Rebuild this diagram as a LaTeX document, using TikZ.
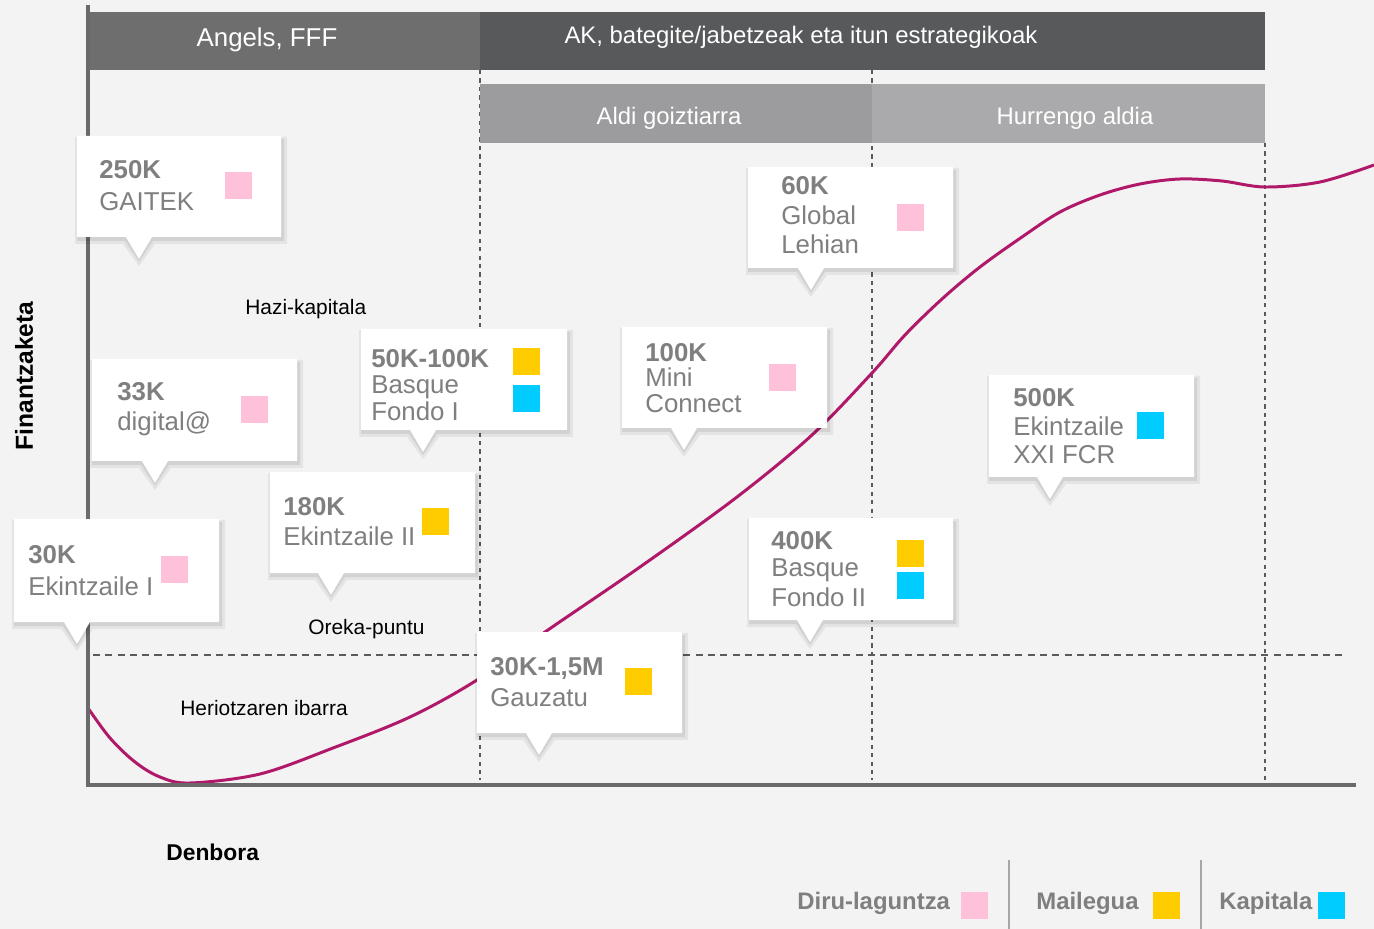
\documentclass[tikz,border=0pt]{standalone}
\usepackage{fontspec}
\setmainfont{Liberation Sans}
\definecolor{bg}{HTML}{F4F3F3}
\definecolor{hdrL}{HTML}{6E6E6E}
\definecolor{hdrR}{HTML}{58595B}
\definecolor{subL}{HTML}{9C9C9E}
\definecolor{subR}{HTML}{AAAAAC}
\definecolor{txtgray}{HTML}{7F7F7F}
\definecolor{axisgray}{HTML}{6A6A6A}
\definecolor{dashgray}{HTML}{5A5A5A}
\definecolor{cpink}{HTML}{FFC0DA}
\definecolor{cyellow}{HTML}{FFCC00}
\definecolor{ccyan}{HTML}{00CCFF}
\definecolor{curvec}{HTML}{B0186A}
\newcommand\pxfont[1]{\fontsize{#1}{#1}\selectfont}
\newcommand\callout[5]{%
  \fill[black,opacity=.06] (#1-2,#2+1) -- (#3+6,#2+1) -- (#3+6,#4+7) -- (#5+16,#4+7) -- (#5,#4+29) -- (#5-16,#4+7) -- (#1-2,#4+7) -- cycle;
  \fill[black,opacity=.08] (#1,#2+3) -- (#3+3,#2+3) -- (#3+3,#4+4) -- (#5+14,#4+4) -- (#5,#4+25) -- (#5-14,#4+4) -- (#1,#4+4) -- cycle;
  \fill[white] (#1,#2) -- (#3,#2) -- (#3,#4) -- (#5+13,#4) -- (#5,#4+22) -- (#5-13,#4) -- (#1,#4) -- cycle;
}
\newcommand\sq[3]{\fill[#1] (#2,#3) rectangle +(27,27);}
\tikzset{
  cb/.style={anchor=base west, inner sep=0pt, text=txtgray, font=\pxfont{14.7}\bfseries},
  cr/.style={anchor=base west, inner sep=0pt, text=txtgray, font=\pxfont{14.7}},
  lbl/.style={anchor=base west, inner sep=0pt, text=black, font=\pxfont{11.9}},
  hdr/.style={anchor=base, inner sep=0pt, text=white, font=\pxfont{13.6}},
  leg/.style={anchor=base west, inner sep=0pt, text=txtgray, font=\pxfont{13.6}\bfseries},
  vdash/.style={dashgray, line width=0.8pt, dash pattern=on 2.4pt off 2.4pt},
  hdash/.style={dashgray, line width=0.8pt, dash pattern=on 4pt off 3pt},
}
\begin{document}
\begin{tikzpicture}[x=0.02cm,y=-0.02cm]
\useasboundingbox (0,0) rectangle (1374,929);
\fill[bg] (0,0) rectangle (1374,929);
% dashed grid
\draw[vdash] (480,70) -- (480,780);
\draw[vdash] (872,70) -- (872,780);
\draw[vdash] (1265,143) -- (1265,780);
\draw[hdash] (93,655) -- (1345,655);
% header bars
\fill[hdrL] (88,12) rectangle (480,70);
\fill[hdrR] (480,12) rectangle (1265,70);
\fill[subL] (480,84) rectangle (872,143);
\fill[subR] (872,84) rectangle (1265,143);
\node[hdr, font=\pxfont{14.7}] (h1) at (267,47) {Angels, FFF};
\node[hdr] (h2) at (801,44) {AK, bategite/jabetzeak eta itun estrategikoak};
\node[hdr] (h3) at (669,125) {Aldi goiztiarra};
\node[hdr] (h4) at (1075,125) {Hurrengo aldia};
% curve
\draw[curvec, line width=1.7pt] plot[smooth, tension=0.55] coordinates {
 (88,708) (110,738) (135,762) (160,777) (190,783) (260,774) (333,748) (410,717)
 (477,680) (545,632) (640,567) (737,497) (812,435) (872,373) (905,335) (942,299)
 (980,267) (1022,237) (1060,212) (1100,195) (1140,184) (1180,179) (1222,181)
 (1265,187) (1320,182) (1374,165)};
% axes
\draw[axisgray, line width=2.8pt] (88,5) -- (88,787);
\draw[axisgray, line width=2.8pt] (86,785) -- (1356,785);
% labels
\node[lbl] (hazi) at (245,315) {Hazi-kapitala};
\node[lbl] (oreka) at (308,634) {Oreka-puntu};
\node[lbl] (herio) at (180,715) {Heriotzaren ibarra};
\node[anchor=base west, inner sep=0pt, font=\pxfont{13}\bfseries] (denb) at (166,860) {Denbora};
\node[rotate=90, inner sep=0pt, font=\pxfont{14}\bfseries] (fin) at (24,376) {Finantzaketa};
% callouts
\callout{77}{136}{281}{237}{139}
\node[cb] (c1a) at (99,179) {250K};
\node[cr] (c1b) at (99,211) {GAITEK};
\sq{cpink}{225}{172}
\callout{92}{359}{297}{461}{155}
\node[cb] (c2a) at (117,401) {33K};
\node[cr] (c2b) at (117,431) {digital@};
\sq{cpink}{241}{396}
\callout{14}{519}{219}{622}{77}
\node[cb] (c3a) at (28,563) {30K};
\node[cr] (c3b) at (28,595) {Ekintzaile I};
\sq{cpink}{161}{556}
\callout{270}{472}{475}{573}{331}
\node[cb] (c4a) at (283,516) {180K};
\node[cr] (c4b) at (283,545) {Ekintzaile II};
\sq{cyellow}{422}{508}
\callout{361}{329}{567}{430}{423}
\node[cb] (c5a) at (371,368) {50K-100K};
\node[cr] (c5b) at (371,394) {Basque};
\node[cr] (c5c) at (371,420) {Fondo I};
\sq{cyellow}{513}{348}
\sq{ccyan}{513}{385}
\callout{622}{327}{827}{428}{684}
\node[cb] (c6a) at (645,362) {100K};
\node[cr] (c6b) at (645,387) {Mini};
\node[cr] (c6c) at (645,413) {Connect};
\sq{cpink}{769}{364}
\callout{748}{167}{953}{268}{811}
\node[cb] (c7a) at (781,195) {60K};
\node[cr] (c7b) at (781,225) {Global};
\node[cr] (c7c) at (781,254) {Lehian};
\sq{cpink}{897}{204}
\callout{989}{375}{1194}{477}{1050}
\node[cb] (c8a) at (1013,407) {500K};
\node[cr] (c8b) at (1013,436) {Ekintzaile};
\node[cr] (c8c) at (1013,463) {XXI FCR};
\sq{ccyan}{1137}{412}
\callout{749}{518}{953}{620}{810}
\node[cb] (c9a) at (771,549) {400K};
\node[cr] (c9b) at (771,577) {Basque};
\node[cr] (c9c) at (771,606) {Fondo II};
\sq{cyellow}{897}{540}
\sq{ccyan}{897}{572}
\callout{477}{632}{682}{733}{539}
\node[cb] (c10a) at (490,675) {30K-1,5M};
\node[cr] (c10b) at (490,706) {Gauzatu};
\sq{cyellow}{625}{668}
% legend
\draw[gray!70, line width=1.1pt] (1009,860) -- (1009,929);
\draw[gray!70, line width=1.1pt] (1201,860) -- (1201,929);
\node[leg] (l1) at (797,909) {Diru-laguntza};
\sq{cpink}{961}{892}
\node[leg] (l2) at (1036,909) {Mailegua};
\sq{cyellow}{1153}{892}
\node[leg] (l3) at (1219,909) {Kapitala};
\sq{ccyan}{1318}{892}
\end{tikzpicture}
\end{document}
